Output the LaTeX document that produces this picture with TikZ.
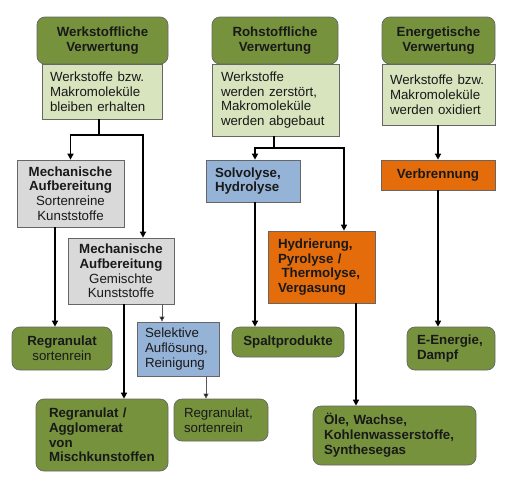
\documentclass[tikz,border=0pt]{standalone}
\usepackage{fontspec}
\setmainfont{Liberation Sans}
\usetikzlibrary{arrows.meta,calc}
\definecolor{dgreen}{HTML}{76923C}
\definecolor{lgreen}{HTML}{D7E4BD}
\definecolor{gbox}{HTML}{D9D9D9}
\definecolor{bbox}{HTML}{95B3D7}
\definecolor{obox}{HTML}{E46C0A}
\newcommand{\fsz}{\fontsize{13.3}{14.8}\selectfont}
\begin{document}
\begin{tikzpicture}[x=1pt,y=-1pt,
  box/.style={draw=black!60, line width=0.7pt, inner sep=0pt, font=\fsz, text=black!90},
  grn/.style={box, fill=dgreen, rounded corners=8pt, font=\fsz\bfseries},
  lgr/.style={box, fill=lgreen, align=left},
  gry/.style={box, fill=gbox, align=center},
  blu/.style={box, fill=bbox},
  org/.style={box, fill=obox, font=\fsz\bfseries},
  main/.style={line width=1.9pt, black},
  thin/.style={line width=0.8pt, black!65},
  arr/.style={-{Triangle[width=6pt,length=6pt,fill=black]}},
  sarr/.style={-{Triangle[width=5pt,length=5pt,fill=black]}}
]
\useasboundingbox (0,0) rectangle (512,480);

% headers
\node[grn, minimum width=131pt, minimum height=47pt, text width=129pt, align=center] (hW) at (102.5,40.5) {Werkstoffliche\\Verwertung};
\node[grn, minimum width=126pt, minimum height=47pt, text width=124pt, align=center] (hR) at (275,40.5) {Rohstoffliche\\Verwertung};
\node[grn, minimum width=113pt, minimum height=47pt, text width=111pt, align=center] (hE) at (438.5,40.5) {Energetische\\Verwertung};

% light boxes
\node[lgr, minimum width=120pt, minimum height=55pt, text width=104pt] (lW) at (102,91.5) {Werkstoffe bzw.\\Makromoleküle\\bleiben erhalten};
\node[lgr, minimum width=127pt, minimum height=72pt, text width=109pt] (lR) at (275.5,100) {Werkstoffe\\werden zerstört,\\Makromoleküle\\werden abgebaut};
\node[lgr, minimum width=113pt, minimum height=61pt, text width=97pt] (lE) at (438.5,94.5) {Werkstoffe bzw.\\Makromoleküle\\werden oxidiert};

% processing boxes
\node[gry, minimum width=107pt, minimum height=67pt, text width=105pt] (m1) at (70.5,193.5) {\textbf{Mechanische}\\\textbf{Aufbereitung}\\Sortenreine\\Kunststoffe};
\node[gry, minimum width=106pt, minimum height=66pt, text width=104pt] (m2) at (121,271) {\textbf{Mechanische}\\\textbf{Aufbereitung}\\Gemischte\\Kunststoffe};
\node[blu, font=\fsz\bfseries, align=left, minimum width=94pt, minimum height=42pt, text width=76pt] (solv) at (253,181) {Solvolyse,\\Hydrolyse};
\node[org, align=center, minimum width=114pt, minimum height=30pt, text width=112pt] (verb) at (438,175) {Verbrennung};
\node[org, align=left, minimum width=107pt, minimum height=72pt, text width=87pt] (hydr) at (321.5,267) {Hydrierung,\\Pyrolyse /\\\hspace*{3.6pt}Thermolyse,\\Vergasung};
\node[blu, align=left, minimum width=82pt, minimum height=54pt, text width=66pt] (sel) at (178,349) {Selektive\\Auflösung,\\Reinigung};

% result boxes
\node[grn, font=\fsz, align=center, minimum width=100pt, minimum height=43pt, text width=98pt] (rs1) at (62,348.5) {\textbf{Regranulat}\\sortenrein};
\node[grn, align=left, minimum width=132pt, minimum height=72pt, text width=106pt] (ra) at (102,435) {Regranulat /\\Agglomerat\\von\\Mischkunstoffen};
\node[grn, font=\fsz, align=left, minimum width=94pt, minimum height=42pt, text width=74pt] (rs2) at (221,420) {Regranulat,\\sortenrein};
\node[grn, align=center, minimum width=112pt, minimum height=30pt, text width=110pt] (spalt) at (288,342) {Spaltprodukte};
\node[grn, align=left, minimum width=88pt, minimum height=43pt, text width=68pt] (ee) at (451,348.5) {E-Energie,\\Dampf};
\node[grn, align=left, minimum width=163pt, minimum height=59pt, text width=141pt] (ole) at (394.5,435.5) {Öle, Wachse,\\Kohlenwasserstoffe,\\Synthesegas};

% connectors: Werkstoffliche
\coordinate (jW) at (99,135);
\draw[main, line width=2.6pt] (lW.south -| jW) -- (jW);
\draw[main, arr] (jW) -| (m1.north);
\draw[main, arr] (jW) -| ([xshift=22pt]m2.north);
% Rohstoffliche
\coordinate (jR) at (274,148);
\draw[main] (lR.south -| jR) -- (jR);
\draw[main, arr] (jR) -| ([xshift=2pt]solv.north);
\draw[main, arr] (jR) -| ([xshift=22.5pt]hydr.north);
% Energetische
\draw[main, arr] (lE.south -| verb.north) -- (verb.north);

% lower connectors
\draw[main, arr] ([xshift=-15.5pt]m1.south) -- ([xshift=-15.5pt]m1.south |- rs1.north);
\draw[main, arr] ([xshift=3pt]m2.south) -- ([xshift=3pt]m2.south |- ra.north);
\draw[thin, sarr] ([xshift=41pt]m2.south) -- ([xshift=41pt]m2.south |- sel.north);
\draw[thin, sarr] ([xshift=28pt]sel.south) -- ([xshift=28pt]sel.south |- rs2.north);
\draw[main, arr] ([xshift=2pt]solv.south) -- ([xshift=2pt]solv.south |- spalt.north);
\draw[main, arr] ([xshift=34.5pt]hydr.south) -- ([xshift=34.5pt]hydr.south |- ole.north);
\draw[main, arr] (verb.south) -- (verb.south |- ee.north);
\end{tikzpicture}
\end{document}
